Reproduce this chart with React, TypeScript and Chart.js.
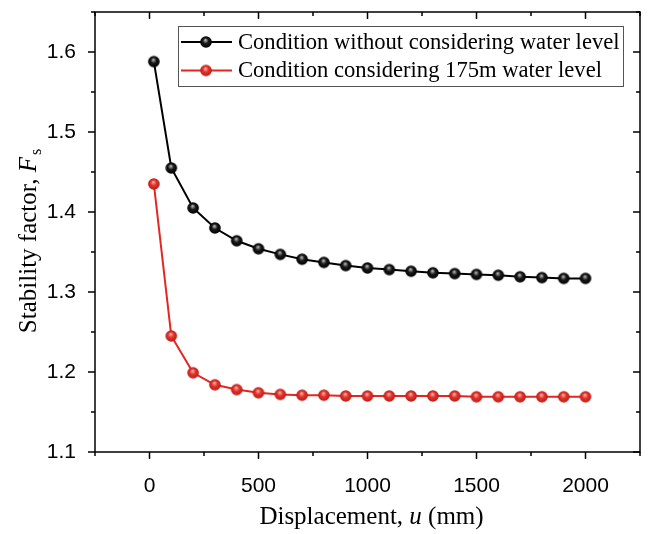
import React, { useEffect, useRef } from "react";
import { Chart, registerables } from "chart.js";

Chart.register(...registerables);

const displacement = [20, 100, 200, 300, 400, 500, 600, 700, 800, 900, 1000, 1100, 1200, 1300, 1400, 1500, 1600, 1700, 1800, 1900, 2000];
const withoutWater = [1.588, 1.455, 1.405, 1.380, 1.364, 1.354, 1.347, 1.341, 1.337, 1.333, 1.330, 1.328, 1.326, 1.324, 1.323, 1.322, 1.321, 1.319, 1.318, 1.317, 1.317];
const with175 = [1.435, 1.245, 1.199, 1.184, 1.178, 1.174, 1.172, 1.171, 1.171, 1.170, 1.170, 1.170, 1.170, 1.170, 1.170, 1.169, 1.169, 1.169, 1.169, 1.169, 1.169];
const seriesLabels = ["Condition without considering water level", "Condition considering 175m water level"];

const xMajorTicks = [0, 500, 1000, 1500, 2000];
const xMinorTicks = [-250, 250, 750, 1250, 1750, 2250];
const yMajorTicks = [1.1, 1.2, 1.3, 1.4, 1.5, 1.6];
const yMinorTicks = [1.15, 1.25, 1.35, 1.45, 1.55, 1.65];
const yTickLabels = ["1.1", "1.2", "1.3", "1.4", "1.5", "1.6"];

const SERIF = "'Liberation Serif', 'Times New Roman', serif";
const SANS = "'Liberation Sans', Arial, sans-serif";

function makeSphere(base: string, dark: string, light: string, r: number): HTMLCanvasElement {
  const size = Math.ceil(r * 2 + 2);
  const c = document.createElement("canvas");
  c.width = size;
  c.height = size;
  const ctx = c.getContext("2d")!;
  const cx = size / 2;
  const cy = size / 2;
  const g = ctx.createRadialGradient(cx - r * 0.1, cy - r * 0.35, r * 0.05, cx, cy, r);
  g.addColorStop(0, light);
  g.addColorStop(0.45, base);
  g.addColorStop(1, dark);
  ctx.fillStyle = g;
  ctx.beginPath();
  ctx.arc(cx, cy, r, 0, Math.PI * 2);
  ctx.fill();
  return c;
}

const framePlugin = {
  id: "frameTicks",
  afterDraw(chart: any) {
    const { ctx, chartArea } = chart;
    const xs = chart.scales.x;
    const ys = chart.scales.y;
    const { left, right, top, bottom } = chartArea;
    ctx.save();
    ctx.strokeStyle = "#000";
    ctx.lineWidth = 1.5;
    ctx.strokeRect(left, top, right - left, bottom - top);
    const major = 7;
    const minor = 4;
    ctx.beginPath();
    const xt = (v: number, len: number) => {
      const px = xs.getPixelForValue(v);
      ctx.moveTo(px, bottom);
      ctx.lineTo(px, bottom + len);
      ctx.moveTo(px, top);
      ctx.lineTo(px, top + len);
    };
    const yt = (v: number, len: number) => {
      const py = ys.getPixelForValue(v);
      ctx.moveTo(left, py);
      ctx.lineTo(left - len, py);
      ctx.moveTo(right, py);
      ctx.lineTo(right - len, py);
    };
    xMajorTicks.forEach((v) => xt(v, major));
    xMinorTicks.forEach((v) => xt(v, minor));
    yMajorTicks.forEach((v) => yt(v, major));
    yMinorTicks.forEach((v) => yt(v, minor));
    ctx.stroke();

    // X title
    const xFont = 25;
    const cxT = (left + right) / 2 + 4;
    const xBase = 524;
    const parts: [string, string][] = [
      ["Displacement, ", `${xFont}px ${SERIF}`],
      ["u", `italic ${xFont}px ${SERIF}`],
      [" (mm)", `${xFont}px ${SERIF}`],
    ];
    let total = 0;
    parts.forEach(([t, f]) => {
      ctx.font = f;
      total += ctx.measureText(t).width;
    });
    let x = cxT - total / 2;
    ctx.fillStyle = "#000";
    ctx.textBaseline = "alphabetic";
    ctx.textAlign = "left";
    parts.forEach(([t, f]) => {
      ctx.font = f;
      ctx.fillText(t, x, xBase);
      x += ctx.measureText(t).width;
    });

    // Y title (rotated)
    const yFont = 25;
    ctx.save();
    ctx.translate(36, (top + bottom) / 2 + 10);
    ctx.rotate(-Math.PI / 2);
    const yParts: [string, string, number][] = [
      ["Stability factor, ", `${yFont}px ${SERIF}`, 0],
      ["F", `italic ${yFont}px ${SERIF}`, 0],
      ["s", `${Math.round(yFont * 0.65)}px ${SERIF}`, 5],
    ];
    let ytot = 0;
    yParts.forEach(([t, f]) => {
      ctx.font = f;
      ytot += ctx.measureText(t).width;
    });
    let yx = -ytot / 2;
    yParts.forEach(([t, f, dy]) => {
      ctx.font = f;
      ctx.fillText(t, yx, dy);
      yx += ctx.measureText(t).width + (t === "F" ? 2 : 0);
    });
    ctx.restore();

    // Legend
    const lx = 178;
    const lyTop = 26;
    const lw = 445;
    const lh = 60;
    ctx.fillStyle = "#fff";
    ctx.fillRect(lx, lyTop, lw, lh);
    ctx.strokeStyle = "#555";
    ctx.lineWidth = 1;
    ctx.strokeRect(lx + 0.5, lyTop + 0.5, lw, lh);
    chart.data.datasets.forEach((ds: any, i: number) => {
      const ry = 42 + i * 28.5;
      ctx.strokeStyle = ds.borderColor;
      ctx.lineWidth = 2;
      ctx.beginPath();
      ctx.moveTo(181, ry);
      ctx.lineTo(232, ry);
      ctx.stroke();
      const img = ds.pointStyle as HTMLCanvasElement;
      ctx.drawImage(img, 206 - img.width / 2, ry - img.height / 2);
      ctx.fillStyle = "#000";
      ctx.font = `22.6px ${SERIF}`;
      ctx.textBaseline = "middle";
      ctx.fillText(ds.label, 238, ry + 1);
    });
    ctx.restore();
  },
};

export default function App() {
  const ref = useRef<HTMLCanvasElement | null>(null);
  useEffect(() => {
    if (!ref.current) return;
    const blackSphere = makeSphere("#1a1a1a", "#000000", "#b8b8b8", 5.8);
    const redSphere = makeSphere("#e3342c", "#b81c16", "#f7b0aa", 5.8);
    const chart = new Chart(ref.current, {
      type: "line",
      data: {
        datasets: [
          {
            label: seriesLabels[0],
            data: displacement.map((x, i) => ({ x, y: withoutWater[i] })),
            borderColor: "#000000",
            borderWidth: 2,
            pointStyle: blackSphere as any,
            pointRadius: 6,
          },
          {
            label: seriesLabels[1],
            data: displacement.map((x, i) => ({ x, y: with175[i] })),
            borderColor: "#e3261f",
            borderWidth: 2,
            pointStyle: redSphere as any,
            pointRadius: 6,
          },
        ],
      },
      options: {
        animation: false,
        responsive: false,
        devicePixelRatio: 1,
        layout: { padding: { left: 0, top: 12, right: 5, bottom: 0 } },
        plugins: { legend: { display: false }, tooltip: { enabled: false }, title: { display: false } },
        scales: {
          x: {
            type: "linear",
            min: -250,
            max: 2250,
            grid: { display: false },
            border: { display: false },
            afterBuildTicks: (s: any) => {
              s.ticks = xMajorTicks.map((v) => ({ value: v }));
            },
            afterFit: (s: any) => {
              s.height = 82;
              s.paddingLeft = 0;
              s.paddingRight = 0;
            },
            ticks: {
              color: "#000",
              font: { family: SANS, size: 21 },
              padding: 14,
              maxRotation: 0,
              autoSkip: false,
              callback: (v: any) => String(v),
            },
          },
          y: {
            type: "linear",
            min: 1.1,
            max: 1.65,
            grid: { display: false },
            border: { display: false },
            afterBuildTicks: (s: any) => {
              s.ticks = yMajorTicks.map((v) => ({ value: v }));
            },
            afterFit: (s: any) => {
              s.width = 95;
              s.paddingTop = 0;
              s.paddingBottom = 0;
            },
            ticks: {
              color: "#000",
              font: { family: SANS, size: 21 },
              padding: 11,
              autoSkip: false,
              callback: (v: any, i: number) => yTickLabels[i],
            },
          },
        },
      },
      plugins: [framePlugin],
    });
    return () => chart.destroy();
  }, []);
  return (
    <div style={{ position: "fixed", left: 0, top: 0, width: 648, height: 534, background: "#fff" }}>
      <canvas ref={ref} width={648} height={534} style={{ display: "block" }} />
    </div>
  );
}
